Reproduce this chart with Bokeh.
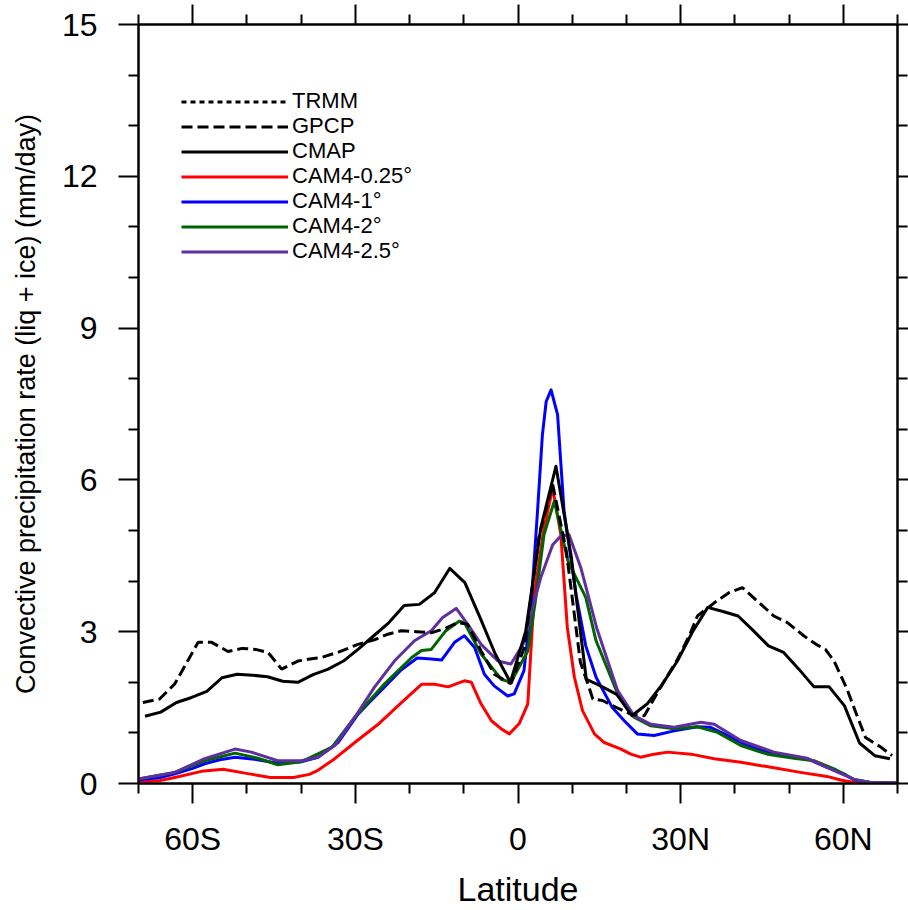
from bokeh.plotting import figure
from bokeh.models import FixedTicker, LinearAxis, Legend, LegendItem, Range1d
from bokeh.embed import file_html
from bokeh.resources import INLINE

# ---------------- data ----------------
lat_gpcp = [-69.2, -66.1, -63.3, -59.0, -56.5, -53.5, -50.9, -48.4, -46.1, -43.6, -40.6,
            -38.4, -36.3, -33.0, -29.5, -26.5, -24.0, -21.5, -18.7, -16.0, -13.5, -11.1,
            -9.3, -6.8, -4.4, -1.3, 1.2, 3.9, 6.4, 8.9, 11.5, 13.1, 13.8, 15.6, 18.2,
            20.8, 23.3, 26.3, 29.4, 31.5, 33.1, 36.2, 38.9, 41.4, 44.1, 47.2, 49.7,
            52.7, 55.0, 56.7, 58.3, 60.7, 62.5, 64.1, 66.9, 69.0]
gpcp = [1.60, 1.67, 1.97, 2.79, 2.79, 2.61, 2.67, 2.65, 2.59, 2.26, 2.42,
        2.46, 2.49, 2.60, 2.75, 2.84, 2.95, 3.02, 3.00, 2.98, 3.06, 3.18,
        3.15, 2.62, 2.16, 1.97, 2.70, 4.90, 5.91, 4.60, 2.40, 1.90, 1.67, 1.64, 1.50,
        1.37, 1.34, 1.90, 2.45, 2.90, 3.31, 3.57, 3.77, 3.87, 3.61, 3.31, 3.18,
        2.92, 2.75, 2.65, 2.42, 1.86, 1.35, 0.91, 0.72, 0.55]

lat_cmap = [-68.8, -65.9, -63.0, -60.2, -57.4, -54.6, -51.8, -49.0, -46.2, -43.4, -40.6,
            -37.8, -35.0, -32.2, -29.4, -26.6, -23.8, -21.0, -18.2, -15.4, -12.6, -9.8,
            -7.0, -4.2, -1.4, 1.4, 4.2, 7.0, 9.8, 12.6, 15.4, 18.2, 21.0, 23.8, 26.6,
            29.4, 32.2, 35.0, 37.8, 40.6, 43.4, 46.2, 49.0, 51.8, 54.6, 57.4, 60.2,
            63.0, 65.8, 68.6]
cmap = [1.33, 1.41, 1.60, 1.70, 1.82, 2.09, 2.16, 2.14, 2.11, 2.02, 2.00,
        2.15, 2.26, 2.42, 2.66, 2.92, 3.18, 3.52, 3.54, 3.77, 4.25, 3.97,
        3.28, 2.56, 2.00, 3.00, 5.05, 6.27, 4.50, 2.06, 1.92, 1.76, 1.34, 1.57, 1.96,
        2.42, 3.00, 3.48, 3.40, 3.31, 3.02, 2.72, 2.59, 2.26, 1.91, 1.91, 1.54,
        0.80, 0.55, 0.49]

lat_cam025 = [-70.0, -66.0, -63.3, -58.4, -54.4, -50.1, -45.7, -41.4, -38.5, -36.9, -33.8,
              -30.1, -25.8, -21.5, -17.8, -15.4, -12.9, -9.9, -8.6, -6.8, -4.9, -3.1,
              -1.6, 0.2, 1.8, 3.0, 4.8, 6.4, 7.9, 9.1, 10.4, 11.9, 14.1, 15.9, 19.0,
              20.8, 22.6, 25.1, 27.6, 31.9, 36.2, 41.1, 47.2, 52.1, 57.0, 59.5, 62.0, 70.0]
cam025 = [0.02, 0.06, 0.12, 0.24, 0.28, 0.20, 0.12, 0.12, 0.18, 0.26, 0.49,
          0.81, 1.17, 1.60, 1.96, 1.96, 1.91, 2.03, 2.00, 1.57, 1.24, 1.08,
          0.98, 1.18, 1.57, 3.74, 5.05, 5.84, 4.92, 3.08, 2.10, 1.44, 0.98, 0.81, 0.68,
          0.58, 0.52, 0.58, 0.62, 0.58, 0.49, 0.42, 0.31, 0.22, 0.14, 0.07, 0.02, 0.01]

lat_cam1 = [-70.0, -66.0, -63.3, -60.0, -57.8, -55.0, -52.2, -48.6, -44.3, -40.0, -36.9,
            -33.2, -29.5, -27.0, -24.7, -21.7, -18.6, -16.0, -14.1, -11.7, -9.9, -8.0,
            -6.2, -4.4, -1.9, -0.7, 1.1, 2.4, 3.6, 4.5, 5.2, 6.1, 7.3, 8.5, 10.7, 12.5,
            14.4, 17.4, 19.6, 22.0, 25.1, 28.8, 33.1, 35.5, 38.6, 42.3, 46.0, 50.3,
            53.3, 57.0, 60.1, 62.0, 65.0, 70.0]
cam1 = [0.07, 0.12, 0.19, 0.30, 0.39, 0.47, 0.52, 0.48, 0.40, 0.43, 0.52,
        0.81, 1.37, 1.65, 1.90, 2.23, 2.48, 2.46, 2.44, 2.79, 2.92, 2.69,
        2.16, 1.93, 1.73, 1.77, 2.23, 3.48, 5.38, 6.89, 7.55, 7.78, 7.29, 5.38, 3.74, 2.72,
        2.10, 1.50, 1.24, 0.98, 0.95, 1.04, 1.12, 1.11, 0.95, 0.75, 0.62, 0.55,
        0.49, 0.32, 0.19, 0.07, 0.02, 0.01]

lat_cam2 = [-70.0, -63.3, -57.8, -52.2, -48.0, -44.3, -40.0, -34.3, -30.1, -24.7, -19.6,
            -17.8, -16.0, -13.3, -10.8, -9.9, -6.8, -3.1, -1.3, 1.8, 3.2, 4.8, 6.7, 9.2,
            10.7, 12.5, 14.4, 18.4, 21.4, 24.5, 28.8, 33.1, 36.8, 41.1, 46.0, 50.9,
            54.6, 58.3, 62.0, 65.0, 70.0]
cam2 = [0.09, 0.22, 0.45, 0.60, 0.50, 0.37, 0.43, 0.72, 1.31, 1.96, 2.49,
        2.63, 2.65, 3.02, 3.21, 3.18, 2.56, 2.06, 2.00, 2.62, 3.60, 4.92, 5.58, 4.40,
        4.07, 3.68, 2.82, 1.77, 1.31, 1.14, 1.08, 1.12, 1.01, 0.75, 0.58, 0.50,
        0.45, 0.29, 0.08, 0.02, 0.01]

lat_cam25 = [-70.0, -63.3, -57.8, -52.2, -49.2, -44.3, -40.0, -36.9, -33.8, -30.1, -26.5,
             -22.8, -19.1, -16.0, -13.9, -11.4, -9.3, -6.8, -3.7, -1.3, 1.2, 2.5, 4.2,
             6.4, 7.9, 9.4, 11.6, 14.5, 18.4, 21.4, 24.5, 28.8, 33.7, 36.2, 41.1, 47.2,
             53.3, 57.6, 62.0, 65.0, 70.0]
cam25 = [0.09, 0.22, 0.49, 0.68, 0.62, 0.45, 0.45, 0.52, 0.75, 1.31, 1.90,
         2.42, 2.82, 3.02, 3.28, 3.46, 3.15, 2.75, 2.42, 2.36, 2.80, 3.40, 4.07,
         4.72, 4.89, 4.92, 4.26, 3.08, 1.83, 1.34, 1.17, 1.11, 1.21, 1.17, 0.85, 0.62,
         0.50, 0.29, 0.08, 0.02, 0.01]

# TRMM: legend entry only (no curve is visible in the reference)
lat_trmm = [0.0]
trmm = [float("nan")]

x_major = [-60, -30, 0, 30, 60]
x_labels = ["60S", "30S", "0", "30N", "60N"]
x_minor = [-70, -50, -40, -20, -10, 10, 20, 40, 50, 70]
y_major = [0, 3, 6, 9, 12, 15]
y_minor = [1, 2, 4, 5, 7, 8, 10, 11, 13, 14]

FONT = "Liberation Sans"

p = figure(width=908, height=910, output_backend="svg", toolbar_location=None,
           x_range=Range1d(-70, 70), y_range=Range1d(0, 15),
           min_border_left=138, min_border_right=11, min_border_top=24,
           min_border_bottom=127, background_fill_color="white",
           border_fill_color="white")
p.grid.visible = False
p.outline_line_color = "black"
p.outline_line_width = 2

xt = FixedTicker(ticks=x_major, minor_ticks=x_minor)
yt = FixedTicker(ticks=y_major, minor_ticks=y_minor)


def style_axis(ax, major_out, minor_out):
    ax.axis_line_color = "black"
    ax.axis_line_width = 2
    ax.major_tick_line_color = "black"
    ax.minor_tick_line_color = "black"
    ax.major_tick_line_width = 2
    ax.minor_tick_line_width = 2
    ax.major_tick_in = 0
    ax.minor_tick_in = 0
    ax.major_tick_out = major_out
    ax.minor_tick_out = minor_out
    ax.major_label_text_color = "black"
    ax.axis_label_text_color = "black"


xa = p.xaxis[0]
xa.ticker = xt
xa.major_label_overrides = {v: s for v, s in zip(x_major, x_labels)}
style_axis(xa, 20, 10)
xa.major_label_text_font = FONT
xa.major_label_text_font_size = "32px"
xa.major_label_standoff = 17
xa.axis_label = "Latitude"
xa.axis_label_text_font = FONT
xa.axis_label_text_font_size = "34px"
xa.axis_label_text_font_style = "normal"
xa.axis_label_standoff = 10

ya = p.yaxis[0]
ya.ticker = yt
style_axis(ya, 20, 10)
ya.major_label_text_font = FONT
ya.major_label_text_font_size = "32px"
ya.major_label_standoff = 21
ya.axis_label = "Convective precipitation rate (liq + ice) (mm/day)"
ya.axis_label_text_font = FONT
ya.axis_label_text_font_size = "27px"
ya.axis_label_text_font_style = "normal"
ya.axis_label_standoff = 18

top = LinearAxis(ticker=xt, major_label_overrides={v: "" for v in x_major})
style_axis(top, 20, 10)
top.major_label_standoff = 0
top.major_label_text_font_size = "1px"
p.add_layout(top, "above")

right = LinearAxis(ticker=yt, major_label_overrides={v: "" for v in y_major})
style_axis(right, 11, 10)
right.major_label_standoff = 0
right.major_label_text_font_size = "1px"
p.add_layout(right, "right")

LW = 3
r_025 = p.line(lat_cam025, cam025, line_color="#ff0000", line_width=LW, line_join="round")
r_1 = p.line(lat_cam1, cam1, line_color="#0000ff", line_width=LW, line_join="round")
r_2 = p.line(lat_cam2, cam2, line_color="#006400", line_width=LW, line_join="round")
r_25 = p.line(lat_cam25, cam25, line_color="#5f2f9f", line_width=LW, line_join="round")
r_trmm = p.line(lat_trmm, trmm, line_color="black", line_width=LW, line_dash="5 4")
r_gpcp = p.line(lat_gpcp, gpcp, line_color="black", line_width=LW, line_dash="11 5")
r_cmap = p.line(lat_cmap, cmap, line_color="black", line_width=LW, line_join="round")

legend_labels = ["TRMM", "GPCP", "CMAP", "CAM4-0.25°", "CAM4-1°", "CAM4-2°", "CAM4-2.5°"]
legend_renderers = [r_trmm, r_gpcp, r_cmap, r_025, r_1, r_2, r_25]

ROW = 25          # row pitch of the legend (px)
BOX = 25          # height of one legend box (px)
for i, (lab, ren) in enumerate(zip(legend_labels, legend_renderers)):
    lg = Legend(items=[LegendItem(label=lab, renderers=[ren])],
                location=(43, 669 - ROW * i))
    lg.glyph_width = 107
    lg.glyph_height = BOX
    lg.label_height = BOX
    lg.label_standoff = 4
    lg.spacing = 0
    lg.padding = 0
    lg.margin = 0
    lg.border_line_alpha = 0
    lg.background_fill_alpha = 0
    lg.label_text_font = FONT
    lg.label_text_font_size = "22px"
    lg.label_text_color = "black"
    p.add_layout(lg)

open("out.html", "w").write(file_html(p, INLINE))
